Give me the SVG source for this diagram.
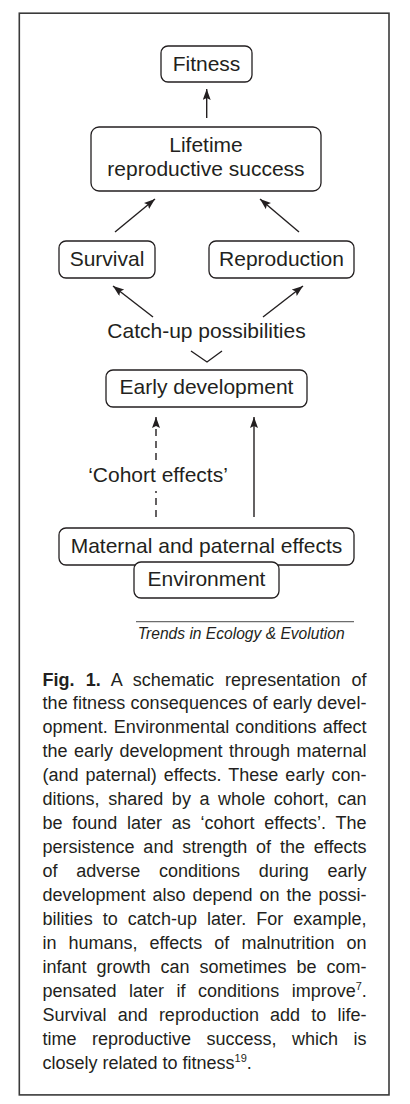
<svg xmlns="http://www.w3.org/2000/svg" width="410" height="1104" viewBox="0 0 410 1104">
<style>
.bg{fill:#ffffff}
.frame{fill:none;stroke:#3a3a3a;stroke-width:1.6}
.box{fill:#ffffff;stroke:#231f20;stroke-width:1.3}
.lbl{font-family:"Liberation Sans",Arial,sans-serif;font-size:21px;fill:#231f20;text-anchor:middle}
.con{fill:none;stroke:#231f20;stroke-width:1.4}
.dash{stroke-dasharray:7,5}
.src{font-family:"Liberation Sans",Arial,sans-serif;font-size:15.6px;font-style:italic;fill:#231f20}
.cap{font-family:"Liberation Sans",Arial,sans-serif;font-size:18px;fill:#231f20}
.rule{stroke:#6d6d6d;stroke-width:1.2}
</style>
<defs>
<marker id="ah" markerUnits="userSpaceOnUse" markerWidth="12" markerHeight="10" refX="11" refY="4" orient="auto">
<path d="M0,0 L11,4 L0,8 L2,4 z" fill="#231f20"/>
</marker>
</defs>
<rect class="bg" x="0" y="0" width="410" height="1104"/>
<rect class="frame" x="19.3" y="13.2" width="369.7" height="1081.7"/>

<g id="connectors">
<line class="con" x1="206.7" y1="118" x2="206.7" y2="89" marker-end="url(#ah)"/>
<line class="con" x1="115" y1="232" x2="155" y2="199" marker-end="url(#ah)"/>
<line class="con" x1="299" y1="232" x2="260" y2="199" marker-end="url(#ah)"/>
<line class="con" x1="153" y1="317" x2="113" y2="286" marker-end="url(#ah)"/>
<line class="con" x1="263" y1="317" x2="303" y2="286" marker-end="url(#ah)"/>
<polyline class="con" points="191,351 207,362 222,351"/>
<line class="con dash" x1="156" y1="517" x2="156" y2="491"/>
<line class="con dash" x1="156" y1="460" x2="156" y2="417" marker-end="url(#ah)"/>
<line class="con" x1="254" y1="517" x2="254" y2="417" marker-end="url(#ah)"/>
</g>

<g id="fitness">
<rect class="box" x="161" y="46" width="91" height="36" rx="7"/>
<text class="lbl" x="206.5" y="70.5">Fitness</text>
</g>
<g id="lifetime">
<rect class="box" x="91" y="127" width="230" height="64" rx="8"/>
<text class="lbl" x="206" y="152">Lifetime</text>
<text class="lbl" x="206" y="176">reproductive success</text>
</g>
<g id="survival">
<rect class="box" x="59" y="241" width="96" height="37" rx="7"/>
<text class="lbl" x="107" y="266">Survival</text>
</g>
<g id="reproduction">
<rect class="box" x="209" y="241" width="145" height="37" rx="7"/>
<text class="lbl" x="281.5" y="266">Reproduction</text>
</g>
<g id="catchup">
<text class="lbl" x="206.5" y="338">Catch-up possibilities</text>
</g>
<g id="early">
<rect class="box" x="106" y="370" width="201" height="37" rx="7"/>
<text class="lbl" x="206.5" y="394">Early development</text>
</g>
<g id="cohort">
<text class="lbl" x="158" y="482">‘Cohort effects’</text>
</g>
<g id="maternal">
<rect class="box" x="59" y="528" width="295" height="37" rx="7"/>
<text class="lbl" x="206.5" y="553">Maternal and paternal effects</text>
</g>
<g id="environment">
<rect class="box" x="134" y="562" width="145" height="36" rx="7"/>
<text class="lbl" x="206.5" y="586">Environment</text>
</g>

<g id="source">
<line class="rule" x1="136" y1="621.7" x2="354" y2="621.7"/>
<text class="src" x="137.7" y="638.5">Trends in Ecology &amp; Evolution</text>
</g>

<g id="caption">
<text class="cap" x="42.5" y="685.5" word-spacing="6" textLength="324" lengthAdjust="spacing"><tspan font-weight="bold">Fig. 1.</tspan> A schematic representation of</text>
<text class="cap" x="42.5" y="709.4" textLength="324" lengthAdjust="spacing">the fitness consequences of early devel-</text>
<text class="cap" x="42.5" y="733.4" word-spacing="1" textLength="324" lengthAdjust="spacing">opment. Environmental conditions affect</text>
<text class="cap" x="42.5" y="757.3" word-spacing="1.5" textLength="324" lengthAdjust="spacing">the early development through maternal</text>
<text class="cap" x="42.5" y="781.3" word-spacing="2" textLength="324" lengthAdjust="spacing">(and paternal) effects. These early con-</text>
<text class="cap" x="42.5" y="805.2" word-spacing="3.6" textLength="324" lengthAdjust="spacing">ditions, shared by a whole cohort, can</text>
<text class="cap" x="42.5" y="829.1" word-spacing="4.6" textLength="324" lengthAdjust="spacing">be found later as ‘cohort effects’. The</text>
<text class="cap" x="42.5" y="853.1" word-spacing="3.8" textLength="324" lengthAdjust="spacing">persistence and strength of the effects</text>
<text class="cap" x="42.5" y="877" word-spacing="13.7" textLength="324" lengthAdjust="spacing">of adverse conditions during early</text>
<text class="cap" x="42.5" y="901" word-spacing="2" textLength="324" lengthAdjust="spacing">development also depend on the possi-</text>
<text class="cap" x="42.5" y="924.9" word-spacing="5" textLength="324" lengthAdjust="spacing">bilities to catch-up later. For example,</text>
<text class="cap" x="42.5" y="948.8" word-spacing="7" textLength="324" lengthAdjust="spacing">in humans, effects of malnutrition on</text>
<text class="cap" x="42.5" y="972.8" word-spacing="5" textLength="324" lengthAdjust="spacing">infant growth can sometimes be com-</text>
<text class="cap" x="42.5" y="996.7" word-spacing="7.5">pensated later if conditions improve<tspan dy="-7" font-size="11">7</tspan><tspan dy="7">.</tspan></text>
<text class="cap" x="42.5" y="1020.7" word-spacing="6.2" textLength="324" lengthAdjust="spacing">Survival and reproduction add to life-</text>
<text class="cap" x="42.5" y="1044.6" word-spacing="10.5" textLength="324" lengthAdjust="spacing">time reproductive success, which is</text>
<text class="cap" x="42.5" y="1068.5">closely related to fitness<tspan dy="-7" font-size="11">19</tspan><tspan dy="7">.</tspan></text>
</g>
</svg>
